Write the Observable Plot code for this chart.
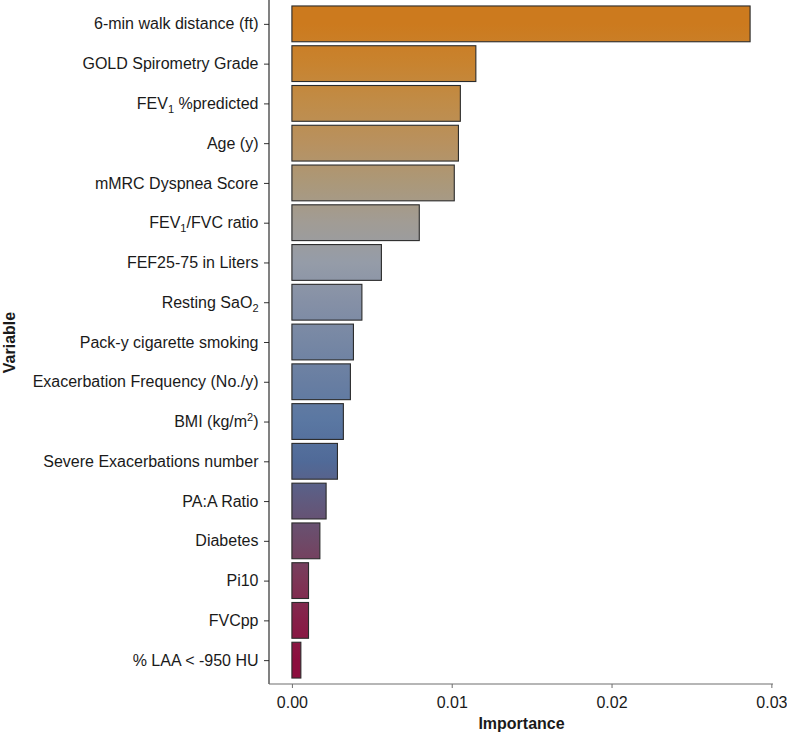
<!DOCTYPE html>
<html>
<head>
<meta charset="utf-8">
<script src="https://cdn.jsdelivr.net/npm/d3@7"></script>
<script src="https://cdn.jsdelivr.net/npm/@observablehq/plot@0.6"></script>
<style>
  body { margin: 0; background: #fff; }
  #chart svg { display: block; }
</style>
</head>
<body>
<div id="chart"></div>
<script>
// ---- data ----
const variables = [
  "6-min walk distance (ft)",
  "GOLD Spirometry Grade",
  "FEV₁ %predicted",
  "Age (y)",
  "mMRC Dyspnea Score",
  "FEV₁/FVC ratio",
  "FEF25-75 in Liters",
  "Resting SaO₂",
  "Pack-y cigarette smoking",
  "Exacerbation Frequency (No./y)",
  "BMI (kg/m²)",
  "Severe Exacerbations number",
  "PA:A Ratio",
  "Diabetes",
  "Pi10",
  "FVCpp",
  "% LAA < -950 HU"
];
const importance = [
  0.02867, 0.01151, 0.01054, 0.01042, 0.01016, 0.00797, 0.00560, 0.00438,
  0.00385, 0.00366, 0.00322, 0.00285, 0.00214, 0.00175, 0.00104, 0.00104, 0.00056
];
const xTicks = [0, 0.01, 0.02, 0.03];
const xLabel = "Importance";
const yLabel = "Variable";

// gradient colours sampled at each row centre (top to bottom)
const gradientColors = [
  "#cc7a1e", "#c8832f", "#c08c48", "#b8915f", "#ab9879", "#a19c95",
  "#959ca8", "#8590a6", "#7687a4", "#687ea2", "#5a77a2", "#506a98",
  "#605a7e", "#6e4a68", "#7d3656", "#861f48", "#8c0e3e"
];

const data = variables.map((v, i) => ({variable: v, importance: importance[i]}));
const xmax = d3.max(importance);

const chart = Plot.plot({
  width: 787,
  height: 734,
  marginTop: 0,
  marginRight: 14,
  marginBottom: 50,
  marginLeft: 269,
  style: {
    fontFamily: "'Liberation Sans', Arial, Helvetica, sans-serif",
    fontSize: "16px",
    color: "#1a1a1a",
    background: "#fff"
  },
  x: {domain: [-0.05 * xmax, 1.05 * xmax], round: false},
  y: {domain: variables, paddingInner: 0.1, paddingOuter: 0.15, round: false},
  marks: [
    Plot.barX(data, {
      x: "importance",
      y: "variable",
      fill: "#888",
      stroke: "#2b2b2b",
      strokeWidth: 1.1
    }),
    Plot.axisY({
      tickSize: 5,
      tickPadding: 6,
      fontSize: 16,
      label: null,
      stroke: "#333"
    }),
    Plot.axisX({
      ticks: xTicks,
      tickFormat: d3.format(".2f"),
      tickSize: 4,
      tickPadding: 8,
      fontSize: 16,
      label: null,
      stroke: "#6e6e6e"
    }),
    Plot.text([xLabel], {
      text: d => d,
      frameAnchor: "bottom",
      lineAnchor: "middle",
      textAnchor: "middle",
      dy: 39,
      fontWeight: "bold",
      fontSize: 16,
      fill: "#1a1a1a"
    }),
    Plot.text([yLabel], {
      text: d => d,
      frameAnchor: "left",
      textAnchor: "middle",
      lineAnchor: "middle",
      dx: -260,
      rotate: -90,
      fontWeight: "bold",
      fontSize: 16,
      fill: "#1a1a1a"
    })
  ]
});

document.getElementById("chart").appendChild(chart);

const ns = "http://www.w3.org/2000/svg";
const H = +chart.getAttribute("height") || 734;

// ---- axis lines drawn from the library's own scale ranges ----
const xs = chart.scale("x"), ys = chart.scale("y");
const [xr0, xr1] = xs.range;
const [yr0, yr1] = ys.range;
const axisG = document.createElementNS(ns, "g");
axisG.setAttribute("aria-label", "axis lines");
const mkLine = (x1, y1, x2, y2, color, w) => {
  const l = document.createElementNS(ns, "line");
  l.setAttribute("x1", x1); l.setAttribute("y1", y1);
  l.setAttribute("x2", x2); l.setAttribute("y2", y2);
  l.setAttribute("stroke", color); l.setAttribute("stroke-width", w);
  axisG.appendChild(l);
};
mkLine(xr0, Math.min(yr0, yr1), xr0, Math.max(yr0, yr1), "#1a1a1a", 1.1); // y axis line
mkLine(xr0, Math.max(yr0, yr1), xr1, Math.max(yr0, yr1), "#6e6e6e", 1.1); // x axis line
chart.appendChild(axisG);

// ---- gradient fill following the rows ----
const rects = Array.from(chart.querySelectorAll('g[aria-label="bar"] rect'));
const defs = document.createElementNS(ns, "defs");
const grad = document.createElementNS(ns, "linearGradient");
grad.setAttribute("id", "imp-grad");
grad.setAttribute("gradientUnits", "userSpaceOnUse");
grad.setAttribute("x1", 0); grad.setAttribute("x2", 0);
grad.setAttribute("y1", 0); grad.setAttribute("y2", H);
rects.forEach((r, i) => {
  const yc = +r.getAttribute("y") + (+r.getAttribute("height")) / 2;
  const stop = document.createElementNS(ns, "stop");
  stop.setAttribute("offset", (yc / H).toFixed(5));
  stop.setAttribute("stop-color", gradientColors[i % gradientColors.length]);
  grad.appendChild(stop);
});
defs.appendChild(grad);
chart.insertBefore(defs, chart.firstChild);
rects.forEach(r => r.setAttribute("fill", "url(#imp-grad)"));
const barG = chart.querySelector('g[aria-label="bar"]');
if (barG) barG.setAttribute("fill", "url(#imp-grad)");

// ---- subscripts / superscripts in tick labels ----
const subMap = {"₁": ["1", "sub"], "₂": ["2", "sub"], "²": ["2", "sup"]};
chart.querySelectorAll('g[aria-label="y-axis tick label"] text').forEach(t => {
  const s = t.textContent;
  if (!/[₁₂²]/.test(s)) return;
  const title = t.querySelector("title");
  while (t.firstChild) t.removeChild(t.firstChild);
  if (title) t.appendChild(title);
  let buf = "";
  let shift = 0;
  const flush = () => {
    if (!buf) return;
    const ts = document.createElementNS(ns, "tspan");
    ts.textContent = buf;
    if (shift) { ts.setAttribute("dy", -shift); shift = 0; }
    t.appendChild(ts);
    buf = "";
  };
  for (const ch of s) {
    if (subMap[ch]) {
      flush();
      const [c, kind] = subMap[ch];
      const ts = document.createElementNS(ns, "tspan");
      ts.textContent = c;
      ts.setAttribute("font-size", "11px");
      const d = kind === "sub" ? 4 : -6;
      ts.setAttribute("dy", d);
      t.appendChild(ts);
      shift = d;
    } else buf += ch;
  }
  flush();
});
</script>
</body>
</html>
